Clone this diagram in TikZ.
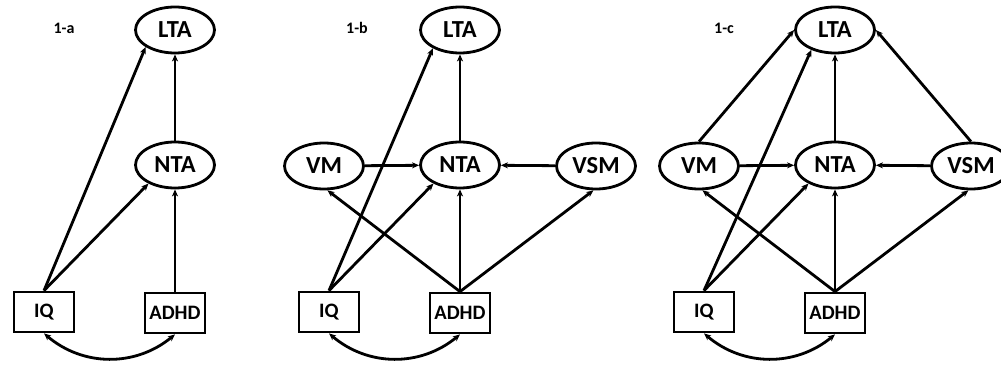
\documentclass[tikz,border=0pt]{standalone}
\usepackage{fontspec}
\setmainfont{Carlito}
\usetikzlibrary{arrows.meta,shapes.geometric}
\begin{document}
\begin{tikzpicture}[x=1pt,y=1pt,
  latent/.style={ellipse, draw, line width=2.8pt, minimum width=79pt, minimum height=46pt, inner sep=0pt, font=\bfseries\fontsize{24.5}{26}\selectfont},
  obs/.style={rectangle, draw, line width=2.8pt, minimum width=60pt, minimum height=40pt, inner sep=0pt, font=\bfseries\fontsize{20.5}{22}\selectfont},
  path/.style={line width=2.8pt, -{Stealth[length=7pt,width=6pt,inset=2pt]}},
  corr/.style={line width=2.8pt, {Stealth[length=7pt,width=6pt,inset=2pt]}-{Stealth[length=7pt,width=6pt,inset=2pt]}},
  tag/.style={font=\bfseries\fontsize{16}{18}\selectfont}]
\useasboundingbox (0,0) rectangle (1001,367);
% the part that all three models share
\foreach \p/\xs/\a/\tx in {a/175/210/64, b/460/214/357, c/835/220/724} {
  \node[tag] (tag\p) at (\tx,339) {1-\p};
  \node[latent] (LTA\p) at (\xs,337) {LTA};
  \node[latent] (NTA\p) at (\xs,202) {NTA};
  \node[obs] (IQ\p) at (\xs-131,55) {IQ};
  \node[obs] (ADHD\p) at (\xs,54) {ADHD};
  \draw[path] (NTA\p) -- (LTA\p);
  \draw[path] (ADHD\p) -- (NTA\p);
  \draw[path] (IQ\p.north) -- (LTA\p.\a);
  \draw[path] (IQ\p.north) -- (NTA\p.215);
  \draw[corr] (IQ\p.south) to[bend right=40] (ADHD\p.south);
}
% mediators in 1-b and 1-c
\foreach \p/\xs in {b/460, c/835} {
  \node[latent] (VM\p) at (\xs-136,201) {VM};
  \node[latent] (VSM\p) at (\xs+136,201) {VSM};
  \draw[path] (VM\p) -- (NTA\p);
  \draw[path] (VSM\p) -- (NTA\p);
  \draw[path] (ADHD\p.north) -- (VM\p.278);
  \draw[path] (ADHD\p.north) -- (VSM\p.264);
}
% direct paths to LTA in 1-c
\draw[path] (VMc.north) -- (LTAc.west);
\draw[path] (VSMc.north) -- (LTAc.east);
\end{tikzpicture}
\end{document}
